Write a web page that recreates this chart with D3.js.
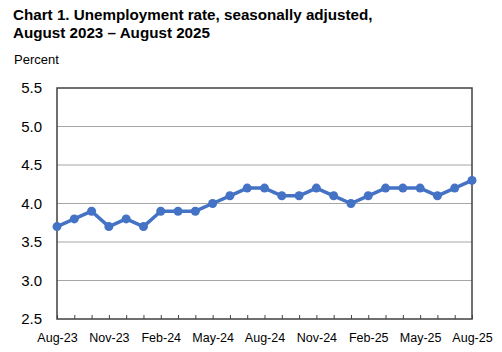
<!DOCTYPE html>
<html>
<head>
<meta charset="utf-8">
<script src="https://cdn.jsdelivr.net/npm/d3@7"></script>
<style>
  body { margin: 0; background: #fff; }
  text { font-family: Arial, "Liberation Sans", sans-serif; }
</style>
</head>
<body>
<div id="chart"></div>
<script>
// monthly unemployment rate, Aug-23 .. Aug-25
const months = ["Aug-23","Sep-23","Oct-23","Nov-23","Dec-23","Jan-24","Feb-24","Mar-24","Apr-24",
  "May-24","Jun-24","Jul-24","Aug-24","Sep-24","Oct-24","Nov-24","Dec-24","Jan-25","Feb-25",
  "Mar-25","Apr-25","May-25","Jun-25","Jul-25","Aug-25"];
const rates = [3.7,3.8,3.9,3.7,3.8,3.7,3.9,3.9,3.9,4.0,4.1,4.2,4.2,4.1,4.1,4.2,4.1,4.0,4.1,4.2,4.2,4.2,4.1,4.2,4.3];
const xLabels = ["Aug-23","Nov-23","Feb-24","May-24","Aug-24","Nov-24","Feb-25","May-25","Aug-25"];
const yTicks = [2.5,3.0,3.5,4.0,4.5,5.0,5.5];

const width = 502, height = 352;
const margin = { left: 57, right: 30, top: 88, bottom: 33 };
const innerWidth = width - margin.left - margin.right;
const innerHeight = height - margin.top - margin.bottom;
const lineColor = "#4472c4";

const svg = d3.select("#chart").append("svg")
  .attr("width", width)
  .attr("height", height);

svg.append("text")
  .attr("x", 13).attr("y", 20)
  .attr("font-size", 15.2).attr("font-weight", "bold").attr("fill", "#000")
  .text("Chart 1. Unemployment rate, seasonally adjusted,");
svg.append("text")
  .attr("x", 13).attr("y", 38)
  .attr("font-size", 15.2).attr("font-weight", "bold").attr("fill", "#000")
  .text("August 2023 \u2013 August 2025");
svg.append("text")
  .attr("x", 14).attr("y", 64)
  .attr("font-size", 13).attr("fill", "#000")
  .text("Percent");

const xScale = d3.scalePoint().domain(months).range([0, innerWidth]);
const yScale = d3.scaleLinear().domain([2.5, 5.5]).range([innerHeight, 0]);

const g = svg.append("g")
  .attr("transform", `translate(${margin.left},${margin.top})`);

// gridlines
g.selectAll(".grid")
  .data(yTicks.filter(d => d > 2.5 && d < 5.5))
  .enter().append("line")
  .attr("class", "grid")
  .attr("x1", 0).attr("x2", innerWidth)
  .attr("y1", d => yScale(d)).attr("y2", d => yScale(d))
  .attr("stroke", "#a6a6a6")
  .attr("stroke-width", 1);

// y axis labels
const yAxis = g.append("g")
  .attr("class", "y-axis")
  .call(d3.axisLeft(yScale).tickValues(yTicks).tickSize(0).tickPadding(15)
    .tickFormat(d3.format(".1f")));
yAxis.select(".domain").remove();
yAxis.selectAll(".tick text")
  .attr("font-size", 15).attr("fill", "#000")
  .attr("font-family", "Arial, 'Liberation Sans', sans-serif");

// x axis, ticks point inward, labels every 3rd month
const xAxis = g.append("g")
  .attr("class", "x-axis")
  .attr("transform", `translate(0,${innerHeight})`)
  .call(d3.axisBottom(xScale).tickSize(-4).tickPadding(14));
xAxis.select(".domain").remove();
xAxis.selectAll(".tick line").attr("stroke", "#444").attr("stroke-width", 1);
xAxis.selectAll(".tick text").filter(d => !xLabels.includes(d)).remove();
xAxis.selectAll(".tick text")
  .attr("font-size", 12.5).attr("fill", "#000")
  .attr("font-family", "Arial, 'Liberation Sans', sans-serif");

// plot frame
g.append("rect")
  .attr("x", 0).attr("y", 0)
  .attr("width", innerWidth).attr("height", innerHeight)
  .attr("fill", "none")
  .attr("stroke", "#404040")
  .attr("stroke-width", 1.5);

const line = d3.line()
  .x((d, i) => xScale(months[i]))
  .y(d => yScale(d));

g.append("path")
  .datum(rates)
  .attr("d", line)
  .attr("fill", "none")
  .attr("stroke", lineColor)
  .attr("stroke-width", 3.5)
  .attr("stroke-linejoin", "round");

g.selectAll(".dot")
  .data(rates)
  .enter().append("circle")
  .attr("class", "dot")
  .attr("cx", (d, i) => xScale(months[i]))
  .attr("cy", d => yScale(d))
  .attr("r", 4.5)
  .attr("fill", lineColor);
</script>
</body>
</html>
